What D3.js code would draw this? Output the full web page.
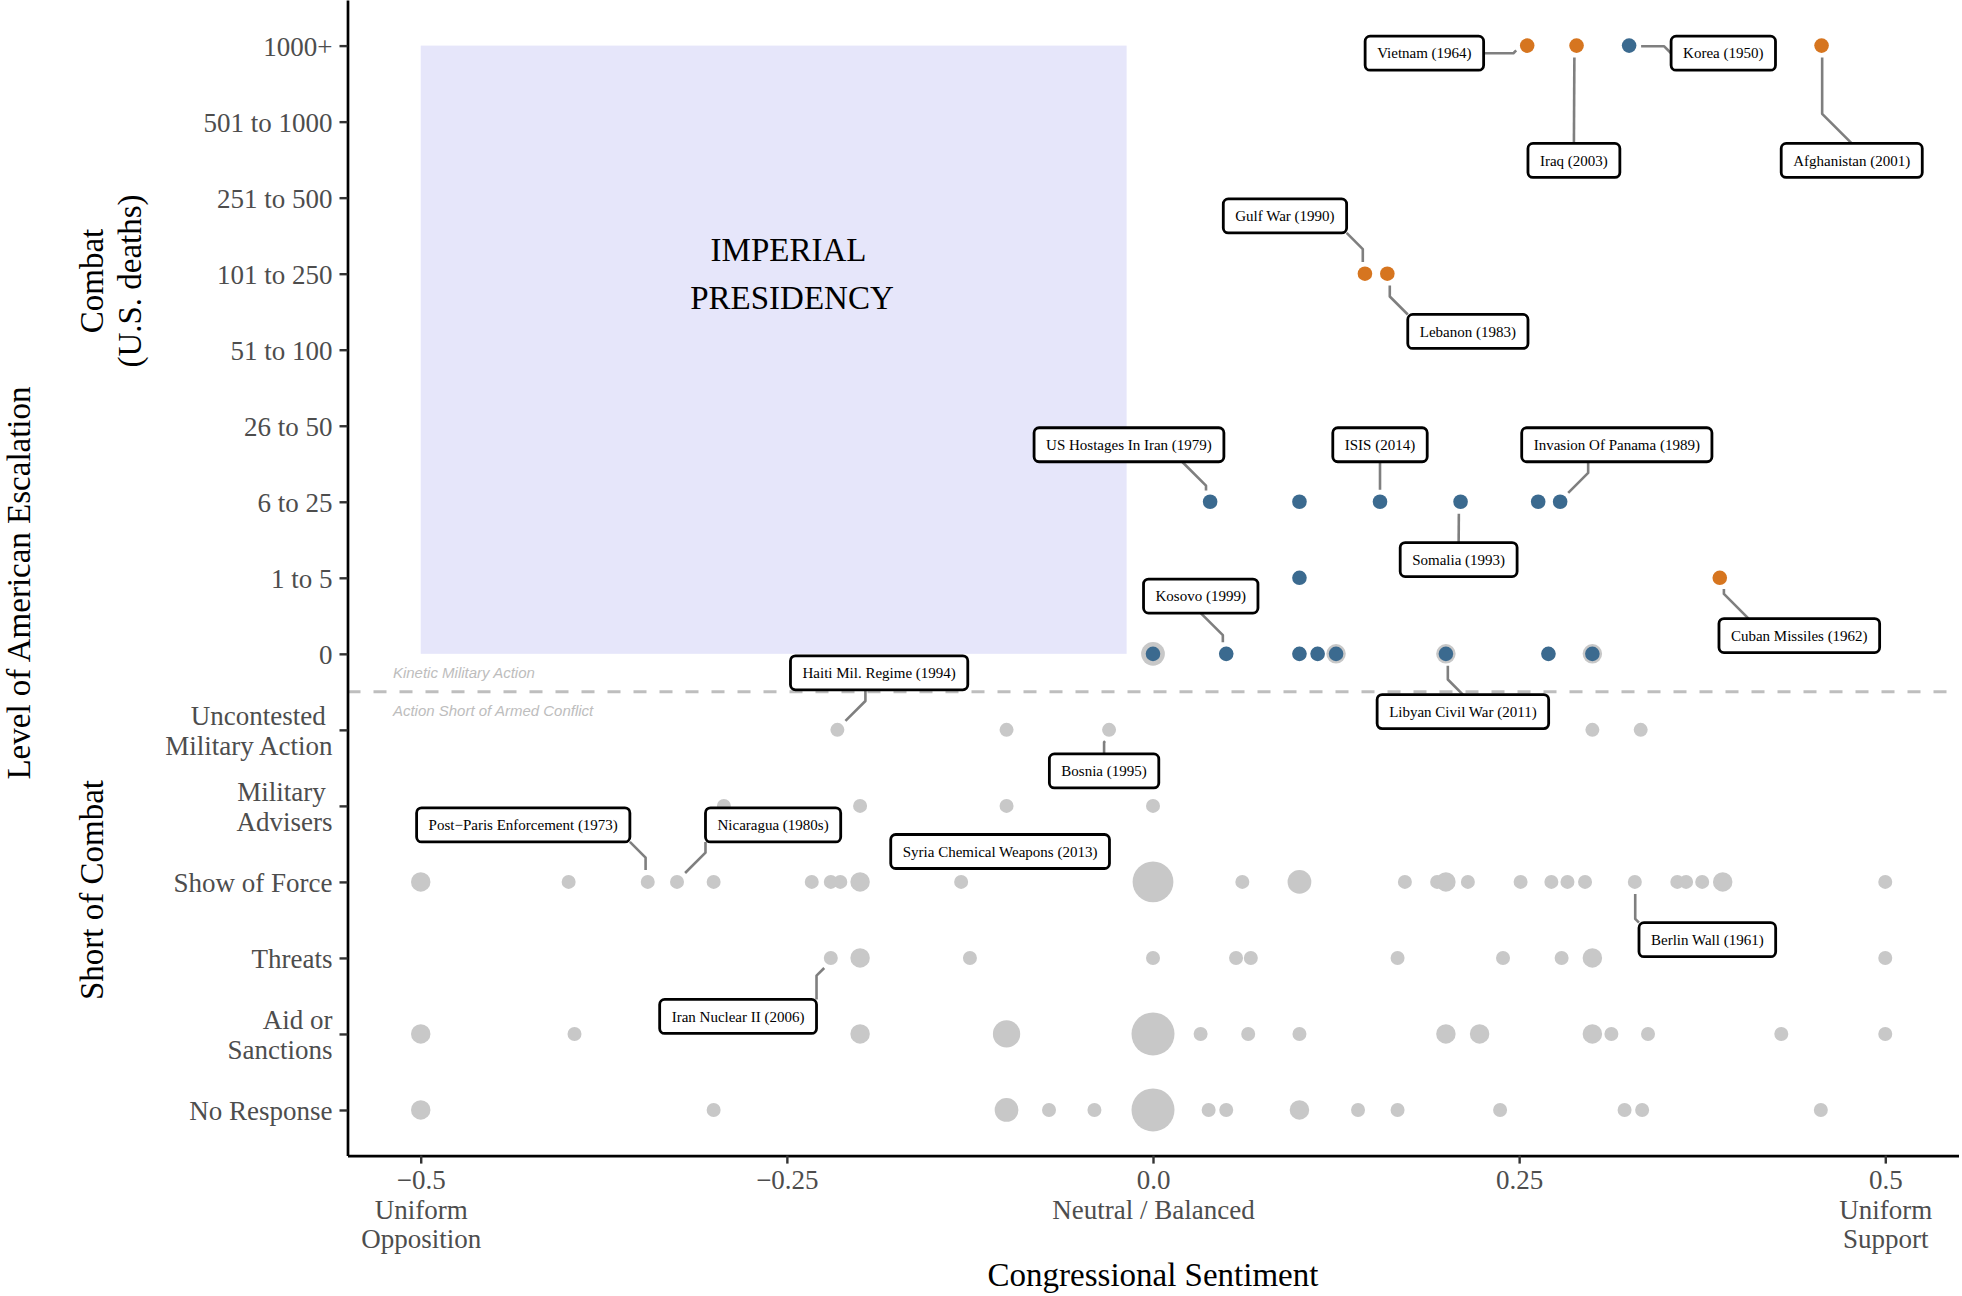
<!DOCTYPE html>
<html>
<head>
<meta charset="utf-8">
<script src="https://cdn.jsdelivr.net/npm/d3@7"></script>
<style>
  html, body { margin: 0; padding: 0; background: #fff; }
  svg { display: block; font-family: "Liberation Serif", "Times New Roman", serif; }
</style>
</head>
<body>
<svg id="chart"></svg>
<script>
// escalation levels, bottom to top
const levelLabels = [
  "No Response", "Aid or\nSanctions", "Threats", "Show of Force",
  "Military \nAdvisers", "Uncontested \nMilitary Action",
  "0", "1 to 5", "6 to 25", "26 to 50", "51 to 100",
  "101 to 250", "251 to 500", "501 to 1000", "1000+"
]
const xTicks = [-0.5, -0.25, 0, 0.25, 0.5]
const xTickLabels = ["\u22120.5\nUniform\nOpposition", "\u22120.25", "0.0\nNeutral / Balanced", "0.25", "0.5\nUniform\nSupport"]

// grey layer: [sentiment, number of events]
const noResponse = [[-0.5, 2], [-0.3, 1], [-0.1, 3], [-0.071, 1], [-0.04, 1], [0, 10], [0.038, 1], [0.05, 1],
  [0.1, 2], [0.14, 1], [0.167, 1], [0.237, 1], [0.322, 1], [0.334, 1], [0.456, 1]]
const aidSanctions = [[-0.5, 2], [-0.395, 1], [-0.2, 2], [-0.1, 4], [0, 10], [0.0325, 1], [0.065, 1], [0.1, 1],
  [0.2, 2], [0.223, 2], [0.3, 2], [0.313, 1], [0.338, 1], [0.429, 1], [0.5, 1]]
const threats = [[-0.22, 1], [-0.2, 2], [-0.125, 1], [0, 1], [0.0567, 1], [0.0668, 1], [0.167, 1], [0.239, 1],
  [0.279, 1], [0.3, 2], [0.5, 1]]
const showOfForce = [[-0.5, 2], [-0.399, 1], [-0.345, 1], [-0.325, 1], [-0.3, 1], [-0.233, 1], [-0.22, 1], [-0.2135, 1],
  [-0.2, 2], [-0.131, 1], [0, 9], [0.061, 1], [0.1, 3], [0.172, 1], [0.194, 1], [0.2, 2], [0.215, 1], [0.251, 1],
  [0.272, 1], [0.283, 1], [0.295, 1], [0.329, 1], [0.358, 1], [0.364, 1], [0.375, 1], [0.389, 2], [0.5, 1]]
const militaryAdvisers = [[-0.293, 1], [-0.2, 1], [-0.1, 1], [0, 1]]
const uncontested = [[-0.2155, 1], [-0.1, 1], [-0.03, 1], [0.3, 1], [0.333, 1]]
const zeroDeaths = [[0, 3], [0.05, 1], [0.1, 1], [0.1124, 1], [0.125, 2], [0.2, 2], [0.27, 1], [0.3, 2]]

// combat events: [level, sentiment, authorized by Congress]
const combatPoints = [
  [14, 0.2555, true], [14, 0.2892, true], [14, 0.3251, false], [14, 0.4565, true],
  [11, 0.1447, true], [11, 0.16, true],
  [8, 0.039, false], [8, 0.1, false], [8, 0.155, false], [8, 0.21, false], [8, 0.263, false], [8, 0.278, false],
  [7, 0.1, false], [7, 0.387, true],
  [6, 0, false], [6, 0.05, false], [6, 0.1, false], [6, 0.1124, false], [6, 0.125, false],
  [6, 0.2, false], [6, 0.27, false], [6, 0.3, false]
]

// labelled events: [text, level, sentiment]
const eventLabels = [
  ["Vietnam (1964)", 14, 0.2555], ["Iraq (2003)", 14, 0.2892], ["Korea (1950)", 14, 0.3251],
  ["Afghanistan (2001)", 14, 0.4565], ["Gulf War (1990)", 11, 0.1447], ["Lebanon (1983)", 11, 0.16],
  ["US Hostages In Iran (1979)", 8, 0.039], ["ISIS (2014)", 8, 0.155], ["Invasion Of Panama (1989)", 8, 0.278],
  ["Somalia (1993)", 8, 0.21], ["Kosovo (1999)", 6, 0.05], ["Cuban Missiles (1962)", 7, 0.387],
  ["Libyan Civil War (2011)", 6, 0.2], ["Haiti Mil. Regime (1994)", 5, -0.2155], ["Bosnia (1995)", 5, -0.03],
  ["Post\u2212Paris Enforcement (1973)", 3, -0.345], ["Nicaragua (1980s)", 3, -0.325],
  ["Syria Chemical Weapons (2013)", 3, -0.131], ["Iran Nuclear II (2006)", 2, -0.22], ["Berlin Wall (1961)", 3, 0.329]
]
// where each label box sits: [sentiment, level]
const labelBoxAt = [
  [0.1853, 13.9], [0.2874, 12.49], [0.3894, 13.9], [0.4771, 12.49], [0.0901, 11.76], [0.215, 10.24],
  [-0.0164, 8.75], [0.155, 8.75], [0.3167, 8.75], [0.2087, 7.24], [0.0326, 6.76], [0.4413, 6.24],
  [0.2116, 5.24], [-0.187, 5.75], [-0.0334, 4.46], [-0.43, 3.75], [-0.2594, 3.75],
  [-0.1044, 3.4], [-0.2833, 1.23], [0.3785, 2.24]
]

const width = 1962, height = 1296
const margin = { left: 347.5, right: 3.5, bottom: 140.4 }
const serif = '"Liberation Serif", "Times New Roman", serif'
const sans = '"Liberation Sans", Arial, sans-serif'

const svg = d3.select("#chart").attr("width", width).attr("height", height)

const x = d3.scaleLinear().domain([-0.55, 0.55]).range([margin.left, width - margin.right])
const y = d3.scaleLinear().domain([-0.6, 14.6]).range([height - margin.bottom, 0])
const r = d3.scaleRadial().domain([1, 10]).range([7, 21.5])

// imperial presidency region
svg.append("rect")
  .attr("x", x(-0.5)).attr("y", y(14))
  .attr("width", x(-0.018) - x(-0.5)).attr("height", y(6) - y(14))
  .attr("fill", "#E6E6FA")

const imperial = svg.append("text")
  .attr("text-anchor", "middle").attr("font-size", 33).attr("fill", "#000")
  .style("white-space", "pre")
;["IMPERIAL ", "PRESIDENCY"].forEach((ln, k) => {
  imperial.append("tspan").attr("x", x(-0.2465)).attr("y", y(11) + (k === 0 ? -24 : 24)).attr("dy", "0.35em").text(ln)
})

// kinetic / non-kinetic divider
svg.append("line")
  .attr("x1", x(-0.55)).attr("x2", x(0.55))
  .attr("y1", y(5.5)).attr("y2", y(5.5))
  .attr("stroke", "#BEBEBE").attr("stroke-width", 3).attr("stroke-dasharray", "13,13")

svg.append("text").attr("x", x(-0.519)).attr("y", y(5.75)).attr("dy", "0.35em")
  .attr("font-family", sans).attr("font-style", "italic").attr("font-size", 15).attr("fill", "#BDBDBD")
  .text("Kinetic Military Action")
svg.append("text").attr("x", x(-0.519)).attr("y", y(5.25)).attr("dy", "0.35em")
  .attr("font-family", sans).attr("font-style", "italic").attr("font-size", 15).attr("fill", "#BDBDBD")
  .text("Action Short of Armed Conflict")

// grey event counts
const greyRows = [[0, noResponse], [1, aidSanctions], [2, threats], [3, showOfForce],
  [4, militaryAdvisers], [5, uncontested], [6, zeroDeaths]]
const greyData = greyRows.flatMap(([lvl, rows]) => rows.map(d => ({ lvl, s: d[0], n: d[1] })))

svg.append("g").selectAll("circle")
  .data(greyData)
  .join("circle")
  .attr("cx", d => x(d.s)).attr("cy", d => y(d.lvl)).attr("r", d => r(d.n))
  .attr("fill", "#C8C8C8")

svg.append("g").selectAll("circle")
  .data(combatPoints)
  .join("circle")
  .attr("cx", d => x(d[1])).attr("cy", d => y(d[0])).attr("r", 7.3)
  .attr("fill", d => d[2] ? "#D6751F" : "#3B6A8F")

// elbow leader from box edge to (near) the point
function leaderPath(cx, cy, w, h, px, py) {
  const pad = 12
  const x0 = cx - w / 2, x1 = cx + w / 2, y0 = cy - h / 2, y1 = cy + h / 2
  let ax = Math.max(x0, Math.min(x1, px)), ay = Math.max(y0, Math.min(y1, py))
  if (px > x0 && px < x1) {
    const gap = Math.max(0, Math.abs(py - ay) - pad)
    ax = px + Math.sign(cx - px) * Math.min(gap, Math.abs(cx - px))
  } else if (py > y0 && py < y1) {
    const gap = Math.max(0, Math.abs(px - ax) - pad)
    ay = py + Math.sign(cy - py) * Math.min(gap, Math.abs(cy - py))
  }
  const shorten = (fx, fy) => {
    const l = Math.hypot(px - fx, py - fy) || 1
    return [px - (px - fx) / l * pad, py - (py - fy) / l * pad]
  }
  const elbow = (ex, ey) => {
    const dx = ex - ax, dy = ey - ay
    if (Math.abs(dx) < 1 || Math.abs(dy) < 1) return null
    if (dx * dy > 0) {
      return Math.abs(dy) > Math.abs(dx)
        ? [ex, ay + Math.sign(dy) * Math.abs(dx)]
        : [ax + Math.sign(dx) * Math.abs(dy), ey]
    }
    return Math.abs(dy) > Math.abs(dx)
      ? [ax, ey - Math.sign(dy) * Math.abs(dx)]
      : [ex - Math.sign(dx) * Math.abs(dy), ay]
  }
  let [ex, ey] = shorten(ax, ay)
  let m = elbow(ex, ey)
  if (m) { [ex, ey] = shorten(m[0], m[1]); m = elbow(ex, ey) }
  if (Math.hypot(ex - ax, ey - ay) < 2) return null
  const pts = m ? [[ax, ay], m, [ex, ey]] : [[ax, ay], [ex, ey]]
  return d3.line()(pts)
}

// labels with leader segments
const labelG = svg.append("g")
eventLabels.forEach((lab, i) => {
  const [text, lvl, s] = lab
  const cx = x(labelBoxAt[i][0]), cy = y(labelBoxAt[i][1])
  const px = x(s), py = y(lvl)
  const g = labelG.append("g")
  const seg = g.append("path")
  const box = g.append("rect")
  const t = g.append("text")
    .attr("x", cx).attr("y", cy).attr("dy", "0.35em")
    .attr("text-anchor", "middle").attr("font-family", serif).attr("font-size", 15).attr("fill", "#000")
    .text(text)
  const w = t.node().getComputedTextLength() + 24, h = 34
  box.attr("x", cx - w / 2).attr("y", cy - h / 2).attr("width", w).attr("height", h)
    .attr("rx", 5).attr("fill", "#fff").attr("stroke", "#000").attr("stroke-width", 2.8)
  const d = leaderPath(cx, cy, w, h, px, py)
  if (d) {
    seg.attr("d", d).attr("fill", "none").attr("stroke", "#7F7F7F")
      .attr("stroke-width", 2.6).attr("stroke-linejoin", "round")
  }
})

// axes
const gy = svg.append("g").attr("transform", `translate(${margin.left},0)`)
  .call(d3.axisLeft(y).tickValues(d3.range(15)).tickSize(8).tickSizeOuter(0))
gy.select(".domain").attr("stroke", "#000").attr("stroke-width", 2.7)
gy.selectAll(".tick line").attr("stroke", "#333").attr("stroke-width", 2.4)
gy.selectAll(".tick text").each(function (i) {
  const lines = levelLabels[i].split("\n")
  const t = d3.select(this).text(null).attr("dy", null)
    .attr("font-family", serif).attr("font-size", 27).attr("fill", "#4D4D4D")
    .style("white-space", "pre")
  lines.forEach((ln, k) => {
    t.append("tspan").attr("x", -15)
      .attr("dy", k === 0 ? (0.35 * 27 - (lines.length - 1) * 29.5 / 2) : 29.5)
      .text(ln)
  })
})

const gx = svg.append("g").attr("transform", `translate(0,${y(-0.6)})`)
  .call(d3.axisBottom(x).tickValues(xTicks).tickSize(8).tickSizeOuter(0))
gx.select(".domain").attr("stroke", "#000").attr("stroke-width", 2.7)
gx.selectAll(".tick line").attr("stroke", "#333").attr("stroke-width", 2.4)
gx.selectAll(".tick text").each(function (v, i) {
  const lines = xTickLabels[i].split("\n")
  const t = d3.select(this).text(null).attr("dy", null).attr("y", null)
    .attr("font-family", serif).attr("font-size", 27).attr("fill", "#4D4D4D")
  lines.forEach((ln, k) => {
    t.append("tspan").attr("x", 0)
      .attr(k === 0 ? "y" : "dy", k === 0 ? 33.5 : 29.5)
      .text(ln)
  })
})

// titles
function vTitle(txt, tx, ty) {
  svg.append("text").attr("transform", `translate(${tx},${ty}) rotate(-90)`)
    .attr("text-anchor", "middle").attr("dy", "0.35em")
    .attr("font-family", serif).attr("font-size", 33).attr("fill", "#000")
    .text(txt)
}
vTitle("Level of American Escalation", 18, 583)
vTitle("Combat", 91.5, 281)
vTitle("(U.S. deaths)", 129.5, 281)
vTitle("Short of Combat", 91.5, 890)

svg.append("text").attr("x", x(0)).attr("y", 1274).attr("dy", "0.35em")
  .attr("text-anchor", "middle").attr("font-family", serif).attr("font-size", 33).attr("fill", "#000")
  .text("Congressional Sentiment")
</script>
</body>
</html>
